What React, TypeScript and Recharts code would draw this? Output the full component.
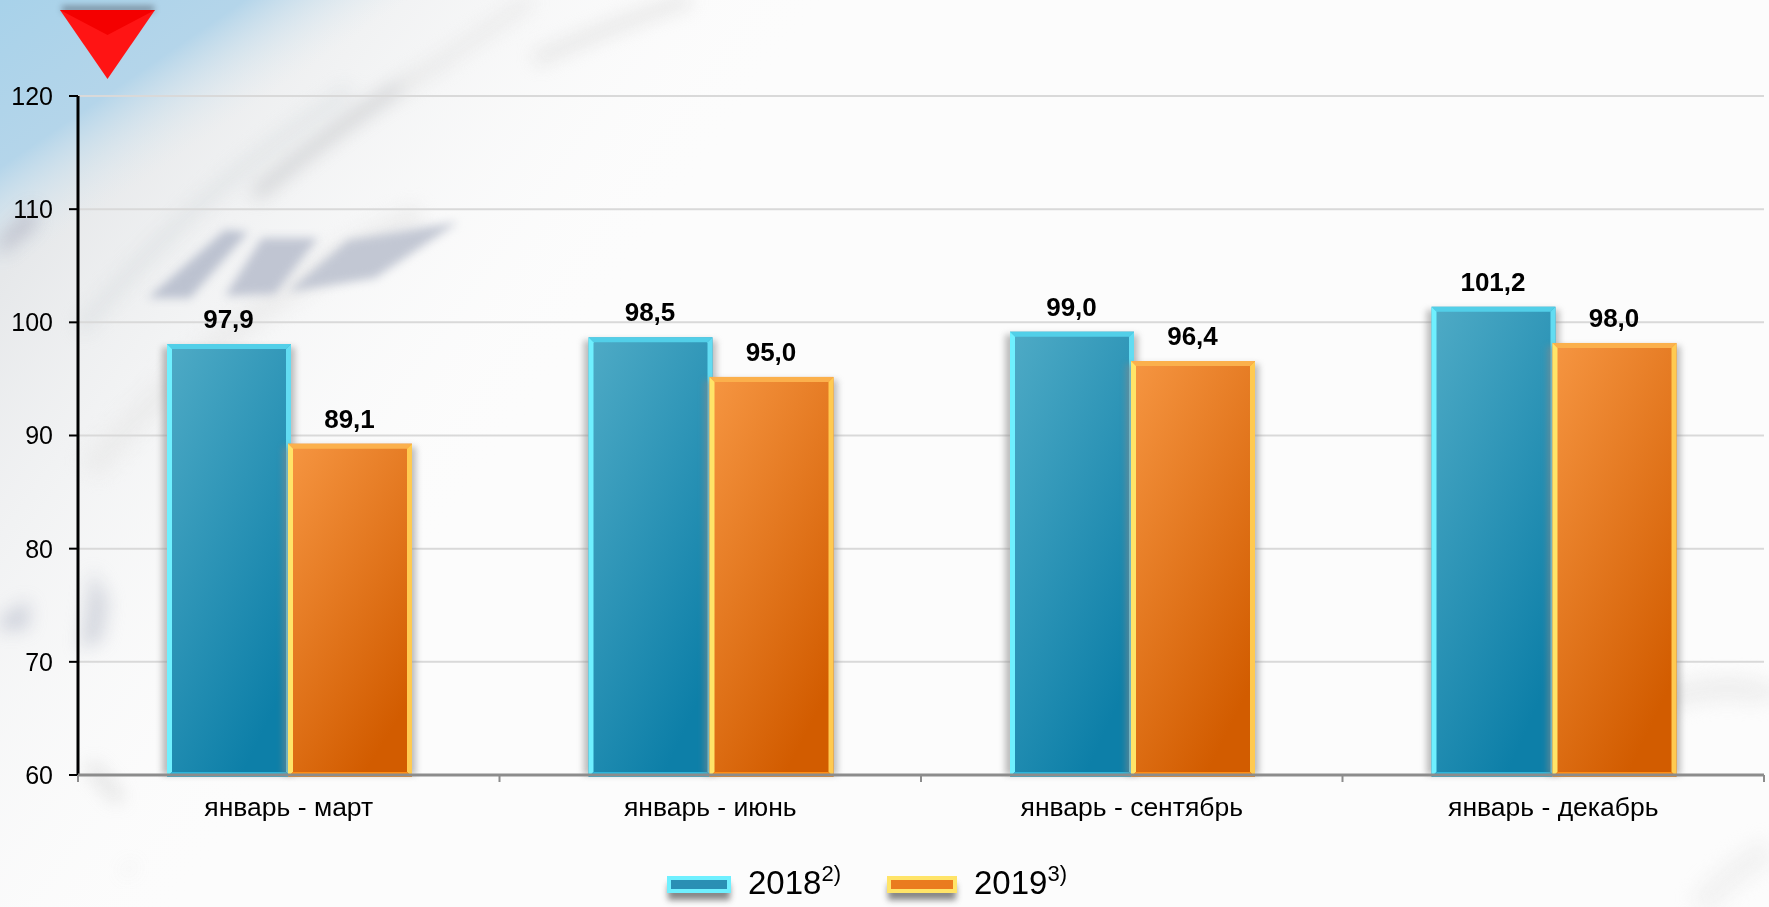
import { BarChart, Bar, XAxis, YAxis, CartesianGrid, Legend, LabelList } from 'recharts'

const categories = ['январь - март', 'январь - июнь', 'январь - сентябрь', 'январь - декабрь']
const values2018 = [97.9, 98.5, 99.0, 101.2]
const values2019 = [89.1, 95.0, 96.4, 98.0]
const yTicks = [60, 70, 80, 90, 100, 110, 120]
const seriesNames = ['2018', '2019']
const footnotes = ['2)', '3)']

const data = categories.map((name, i) => ({ name, a: values2018[i], b: values2019[i] }))

const WIDTH = 1769
const HEIGHT = 907
const FONT = '"Liberation Sans", Arial, sans-serif'
const BAND = (1764 - 78) / categories.length

const blue = { grad: 'blueBody', left: '#6ff0ff', top: '#52cfe8', right: '#62dcf2', bottom: '#2cb4da' }
const orange = { grad: 'orangeBody', left: '#ffe468', top: '#fbb04c', right: '#ffca50', bottom: '#ff8c14' }

function BevelBar(props: any) {
  const { x, y, width, height, palette } = props
  const e = 5
  const r = x + width + 1
  const t = y - 2
  const b = y + height + 2
  return (
    <g>
      <rect x={x - 5} y={t + 3} width={width + 10} height={height - 1} fill="#8a8a8a" opacity={0.55} style={{ filter: 'blur(3px)' }} />
      <rect x={x} y={t} width={r - x} height={b - t} fill={`url(#${palette.grad})`} />
      <g style={{ filter: 'blur(0.7px)' }}>
        <polygon points={`${x},${t} ${r},${t} ${r - e},${t + e} ${x + e},${t + e}`} fill={palette.top} />
        <polygon points={`${x},${t} ${x + e},${t + e} ${x + e},${b - e} ${x},${b}`} fill={palette.left} />
        <polygon points={`${r},${t} ${r},${b} ${r - e},${b - e} ${r - e},${t + e}`} fill={palette.right} />
        <polygon points={`${x},${b} ${r},${b} ${r - e},${b - e} ${x + e},${b - e}`} fill={palette.bottom} />
      </g>
    </g>
  )
}

function CategoryTick(props: any) {
  const { x, y, payload, index } = props
  const left = x - BAND / 2
  const right = x + BAND / 2
  return (
    <g>
      <line x1={left} x2={left} y1={775} y2={782} stroke="#8c8c8c" strokeWidth={2} />
      {index === categories.length - 1 && <line x1={right} x2={right} y1={775} y2={782} stroke="#8c8c8c" strokeWidth={2} />}
      <text x={x} y={y + 33} textAnchor="middle" fontFamily={FONT} fontSize={26.5} fill="#000">
        {payload.value}
      </text>
    </g>
  )
}

function LegendContent() {
  const palettes = [blue, orange]
  return (
    <div style={{ display: 'flex', alignItems: 'flex-start', fontFamily: FONT, color: '#000' }}>
      {seriesNames.map((name, i) => (
        <div key={name} style={{ display: 'flex', alignItems: 'center', marginRight: i === 0 ? 46 : 0 }}>
          <svg width={i === 0 ? 64 : 70} height={32} style={{ overflow: 'visible', position: 'relative', top: -1 }}>
            <rect x={1} y={8} width={i === 0 ? 62 : 68} height={16} fill="#555" opacity={0.7} style={{ filter: 'blur(3px)' }} />
            <rect x={0} y={0} width={i === 0 ? 64 : 70} height={17} fill={palettes[i].left} />
            <rect x={4} y={4} width={i === 0 ? 56 : 62} height={9} fill={i === 0 ? '#2a8fb4' : '#ea7b1f'} />
          </svg>
          <span style={{ fontSize: 33, marginLeft: 17, lineHeight: '36px', position: 'relative', top: -10 }}>
            {name}
            <sup style={{ fontSize: 22, lineHeight: 0, verticalAlign: 'baseline', position: 'relative', top: -13 }}>{footnotes[i]}</sup>
          </span>
        </div>
      ))}
    </div>
  )
}

function Backdrop() {
  return (
    <svg width={WIDTH} height={HEIGHT} style={{ position: 'absolute', left: 0, top: 0 }}>
      <defs>
        <linearGradient id="cornerBlue" gradientUnits="userSpaceOnUse" x1={0} y1={0} x2={130} y2={190}>
          <stop offset="0%" stopColor="#a8d2ea" />
          <stop offset="60%" stopColor="#b4d5ea" />
          <stop offset="100%" stopColor="#dfeaf0" stopOpacity={0} />
        </linearGradient>
        <linearGradient id="topHaze" gradientUnits="userSpaceOnUse" x1={200} y1={0} x2={620} y2={300}>
          <stop offset="0%" stopColor="#e6e8ea" />
          <stop offset="100%" stopColor="#fcfcfc" stopOpacity={0} />
        </linearGradient>
      </defs>
      <rect width={WIDTH} height={HEIGHT} fill="#fcfcfc" />
      <rect width={WIDTH} height={HEIGHT} fill="url(#topHaze)" />
      <rect width={WIDTH} height={HEIGHT} fill="url(#cornerBlue)" />
      <g style={{ filter: 'blur(9px)' }} opacity={0.7}>
        <path d="M0 240 L35 205 L35 225 L0 255 Z" fill="#a9a8b8" />
        <path d="M80 330 C170 220 260 150 350 90" stroke="#d3d8dc" strokeWidth={14} fill="none" opacity={0.7} />
        <path d="M255 195 C320 140 390 90 445 60" stroke="#bfc1c4" strokeWidth={12} fill="none" />
        <path d="M535 60 C590 35 640 15 690 0" stroke="#dcdcdc" strokeWidth={12} fill="none" />
        <path d="M400 90 C440 60 490 30 530 0" stroke="#e4e4e4" strokeWidth={12} fill="none" />
        <path d="M90 470 C200 340 320 260 420 215" stroke="#e9e9e9" strokeWidth={26} fill="none" />
        <path d="M0 620 L28 600 L28 628 L0 630 Z" fill="#b8bdcc" />
        <path d="M92 570 L108 600 L102 640 L80 650 Z" fill="#c3c7d2" />
        <path d="M90 765 L120 800" stroke="#cfcfcf" strokeWidth={10} fill="none" />
        <path d="M128 868 L130 870" stroke="#cccccc" strokeWidth={14} fill="none" />
        <path d="M1660 700 C1720 680 1769 690 1769 700" stroke="#e9e9e9" strokeWidth={24} fill="none" />
        <path d="M1700 907 C1730 870 1769 850 1769 850" stroke="#eeeeee" strokeWidth={26} fill="none" />
      </g>
      <g style={{ filter: 'blur(5px)' }}>
        <path d="M148 298 L225 230 L248 232 L190 298 Z" fill="#bcc2d0" />
        <path d="M225 296 L262 238 L318 238 L275 294 Z" fill="#c0c5d2" />
        <path d="M288 292 L348 240 L458 222 L375 278 Z" fill="#c2c7d3" />
      </g>
      <rect x={62} y={6} width={92} height={6} fill="#505a66" opacity={0.6} style={{ filter: 'blur(3px)' }} />
      <polygon points="60,10 155,10 107.5,79" fill="#ff1414" />
      <polygon points="60,10 155,10 107.5,35" fill="#f40000" />
    </svg>
  )
}

export default function App() {
  return (
    <div style={{ position: 'absolute', left: 0, top: 0, width: WIDTH, height: HEIGHT, overflow: 'hidden' }}>
      <Backdrop />
      <div style={{ position: 'absolute', left: 0, top: 0 }}>
        <BarChart
          width={WIDTH}
          height={HEIGHT}
          data={data}
          margin={{ top: 96, right: 5, bottom: 50, left: 0 }}
          barSize={123}
          barGap={-2}
        >
          <defs>
            <linearGradient id="blueBody" x1="0" y1="0" x2="0.6" y2="1">
              <stop offset="0%" stopColor="#4fabc6" />
              <stop offset="100%" stopColor="#0d7fa8" />
            </linearGradient>
            <linearGradient id="orangeBody" x1="0" y1="0" x2="0.6" y2="1">
              <stop offset="0%" stopColor="#f69642" />
              <stop offset="100%" stopColor="#d25c00" />
            </linearGradient>
          </defs>
          <CartesianGrid vertical={false} stroke="#d9d9d9" strokeWidth={2} />
          <YAxis
            domain={[60, 120]}
            ticks={yTicks}
            width={78}
            axisLine={{ stroke: '#000', strokeWidth: 3 }}
            tickLine={{ stroke: '#000', strokeWidth: 2 }}
            tickSize={9}
            tickMargin={16}
            tick={{ fontFamily: FONT, fontSize: 25, fill: '#000' }}
          />
          <Legend
            content={<LegendContent />}
            height={33}
            wrapperStyle={{ left: 667, top: 875, width: 440, height: 32 }}
          />
          <Bar dataKey="a" name={seriesNames[0]} isAnimationActive={false} shape={(p: any) => <BevelBar {...p} palette={blue} />}>
            <LabelList
              dataKey="a"
              position="top"
              offset={18}
              formatter={(v: number) => v.toFixed(1).replace('.', ',')}
              style={{ fontFamily: FONT, fontSize: 26, fontWeight: 700, fill: '#000' }}
            />
          </Bar>
          <Bar dataKey="b" name={seriesNames[1]} isAnimationActive={false} shape={(p: any) => <BevelBar {...p} palette={orange} />}>
            <LabelList
              dataKey="b"
              position="top"
              offset={18}
              formatter={(v: number) => v.toFixed(1).replace('.', ',')}
              style={{ fontFamily: FONT, fontSize: 26, fontWeight: 700, fill: '#000' }}
            />
          </Bar>
          <XAxis
            dataKey="name"
            axisLine={{ stroke: '#8c8c8c', strokeWidth: 3 }}
            tickLine={false}
            height={50}
            interval={0}
            tick={<CategoryTick />}
          />
        </BarChart>
      </div>
    </div>
  )
}
